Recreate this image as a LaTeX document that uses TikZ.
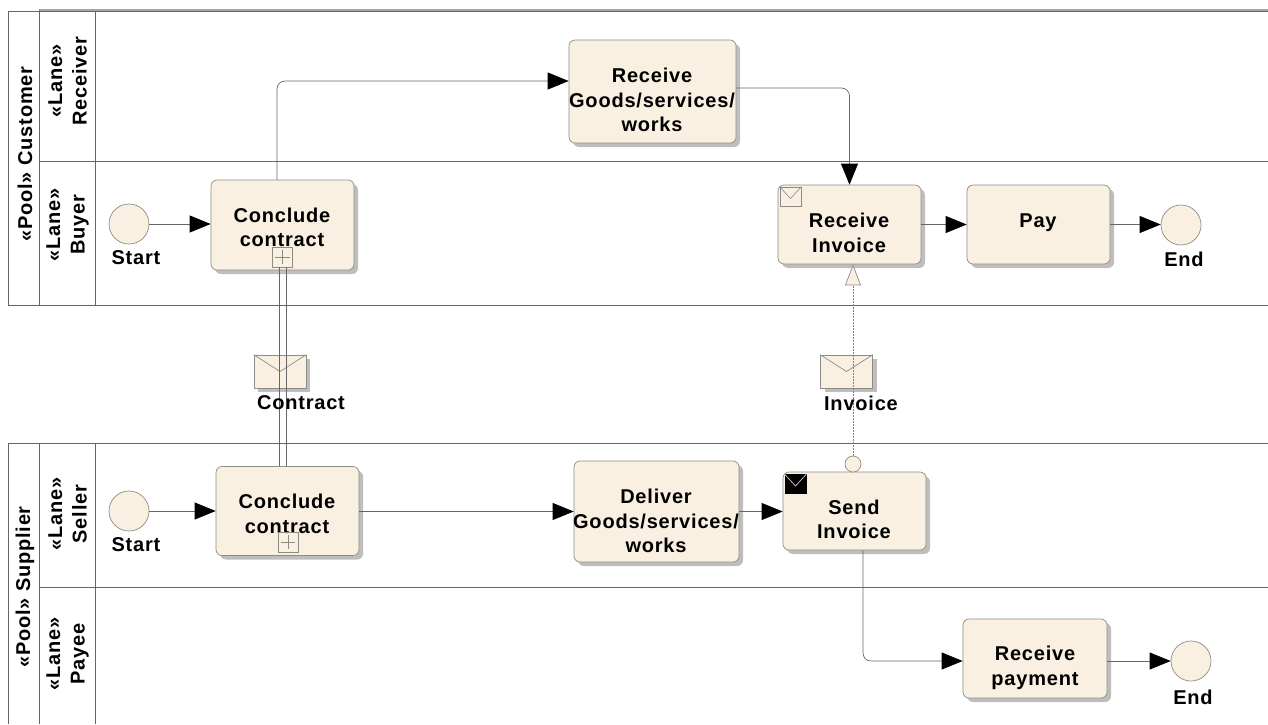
\documentclass[tikz,border=0pt]{standalone}
\usepackage{fontspec}
\setmainfont{Liberation Sans}[LetterSpace=4]
\usetikzlibrary{arrows.meta,shadows,calc}
\definecolor{cream}{HTML}{FAF0E2}
\definecolor{edgegray}{HTML}{8C8C84}
\definecolor{linegray}{HTML}{666666}
\definecolor{shadowgray}{HTML}{BEBEBE}
\tikzset{
  lane/.style={draw=linegray,line width=0.8pt},
  txt/.style={font=\bfseries\fontsize{20}{24.5}\selectfont,align=center,inner sep=0pt,text=black},
  sidetxt/.style={txt,rotate=90},
  taskbox/.style={draw=edgegray,line width=0.7pt,fill=cream,rounded corners=6pt,inner sep=0pt,
    drop shadow={shadow xshift=4pt,shadow yshift=-4pt,fill=shadowgray,opacity=1}},
  event/.style={circle,draw=edgegray,line width=0.7pt,fill=cream,minimum size=40pt,inner sep=0pt},
  flow/.style={draw=linegray,line width=0.7pt,rounded corners=8pt,-{Triangle[length=21pt,width=17pt,color=black,fill=black]}},
  msgline/.style={draw=linegray,line width=0.7pt},
  msgdot/.style={draw=gray,line width=0.7pt,dash pattern=on 1.5pt off 1.5pt,-{Triangle[length=21pt,width=16pt,fill=cream,color=edgegray,line width=0.7pt,sep=0pt]}},
  envbox/.style={draw=edgegray,line width=0.7pt,fill=cream,minimum width=52pt,minimum height=33pt,inner sep=0pt,
    drop shadow={shadow xshift=4pt,shadow yshift=-4pt,fill=shadowgray,opacity=1}},
  iconbox/.style={draw=edgegray,line width=0.7pt,inner sep=0pt,minimum width=21pt,minimum height=19pt},
  plusbox/.style={draw=edgegray,line width=0.7pt,inner sep=0pt,minimum size=20pt},
}
\begin{document}
\begin{tikzpicture}[x=1pt,y=-1pt]
\useasboundingbox (0,0) rectangle (1268,724);
% pools and lanes
\draw[draw=gray!70,line width=1.6pt] (39,10) -- (1268,10);
\draw[lane] (1268,11) -- (8,11) -- (8,305) -- (1268,305);
\draw[lane] (39,10) -- (39,305);
\draw[lane] (95,11) -- (95,305);
\draw[lane] (39,161) -- (1268,161);
\draw[lane] (1268,443) -- (8,443) -- (8,724);
\draw[lane] (39,443) -- (39,724);
\draw[lane] (95,443) -- (95,724);
\draw[lane] (39,587) -- (1268,587);
\node[sidetxt] (poolc) at (25,154) {«Pool» Customer};
\node[sidetxt] (lrecv) at (67.5,81) {«Lane»\\Receiver};
\node[sidetxt] (lbuy) at (67.5,225) {«Lane»\\Buyer};
\node[sidetxt] (pools) at (25,587) {«Pool» Supplier};
\node[sidetxt] (lsell) at (67.5,514) {«Lane»\\Seller};
\node[sidetxt] (lpay) at (67.5,654) {«Lane»\\Payee};
% events
\node[event] (start1) at (129,224) {};
\node[event] (end1) at (1181,225) {};
\node[event] (start2) at (129,511) {};
\node[event] (end2) at (1191,661) {};
\node[txt] (tstart1) at (136,258) {Start};
\node[txt] (tend1) at (1184,259) {End};
\node[txt] (tstart2) at (136,545) {Start};
\node[txt] (tend2) at (1193,697) {End};
% tasks
\node[taskbox,minimum width=143pt,minimum height=90pt] (c1) at (282.5,225) {};
\node[taskbox,minimum width=167pt,minimum height=103pt] (goods) at (652.5,91.5) {};
\node[taskbox,minimum width=143pt,minimum height=79pt] (recvinv) at (849.5,224.5) {};
\node[taskbox,minimum width=143pt,minimum height=79pt] (pay) at (1038.5,224.5) {};
\node[taskbox,minimum width=143pt,minimum height=89pt] (c2) at (287.5,511) {};
\node[taskbox,minimum width=165pt,minimum height=101pt] (deliver) at (656.5,511.5) {};
\node[taskbox,minimum width=143pt,minimum height=78pt] (sendinv) at (854.5,511) {};
\node[taskbox,minimum width=144pt,minimum height=79pt] (recvpay) at (1035,658.5) {};
\node[txt] (tc1) at (282,227.5) {Conclude\\contract};
\node[txt] (tgoods) at (652,100) {Receive\\Goods/services/\\works};
\node[txt] (trecvinv) at (849,233) {Receive\\Invoice};
\node[txt] (tpay) at (1038,223) {Pay};
\node[txt] (tc2) at (287,514) {Conclude\\contract};
\node[txt] (tdeliver) at (656,521) {Deliver\\Goods/services/\\works};
\node[txt] (tsend) at (854,519.5) {Send\\Invoice};
\node[txt] (trecvpay) at (1035,668) {Receive\\payment};
% markers
\node[plusbox] (plus1) at (282.5,257) {};
\draw[edgegray,line width=0.6pt] ($(plus1.west)+(3,0)$) -- ($(plus1.east)+(-3,0)$) ($(plus1.north)+(0,3)$) -- ($(plus1.south)+(0,-3)$);
\node[plusbox] (plus2) at (288,542) {};
\draw[edgegray,line width=0.6pt] ($(plus2.west)+(3,0)$) -- ($(plus2.east)+(-3,0)$) ($(plus2.north)+(0,3)$) -- ($(plus2.south)+(0,-3)$);
\node[iconbox] (mailr) at (790.5,196.5) {};
\draw[edgegray,line width=0.6pt] (mailr.north west) -- ($(mailr.center)+(0,2)$) -- (mailr.north east);
\node[iconbox,fill=black,draw=black] (mails) at (795.5,484) {};
\draw[white!80!gray,line width=0.6pt] (mails.north west) -- ($(mails.center)+(0,2)$) -- (mails.north east);
% message envelopes
\node[envbox] (envc) at (280,371.5) {};
\draw[edgegray,line width=0.7pt] (envc.north west) -- (envc.center) -- (envc.north east);
\node[envbox] (envi) at (846.5,371.5) {};
\draw[edgegray,line width=0.7pt] (envi.north west) -- (envi.center) -- (envi.north east);
% sequence flows
\draw[flow] (start1) -- (c1.west |- start1);
\draw[flow] ([xshift=-5.5pt]c1.north) |- ([yshift=10.5pt]goods.west);
\draw[flow] ([yshift=3.5pt]goods.east) -| (recvinv.north);
\draw[flow] (recvinv.east) -- (pay.west);
\draw[flow] (pay.east) -- (end1.west |- pay.east);
\draw[flow] (start2) -- (c2.west |- start2);
\draw[flow] ([yshift=-0.5pt]c2.east) -- (deliver.west);
\draw[flow] (deliver.west -| deliver.east) -- (sendinv.west |- deliver.east);
\draw[flow] ([xshift=8.5pt]sendinv.south) |- ([yshift=-2.5pt]recvpay.west);
\draw[flow] ([yshift=-2.5pt]recvpay.east) -- (end2.west |- 0,661);
% message flows
\draw[msgline] ([xshift=-3.5pt]plus1.south) -- ([xshift=-8.5pt]c2.north);
\draw[msgline] ([xshift=3.5pt]plus1.south) -- ([xshift=-1.5pt]c2.north);
\node[circle,draw=edgegray,line width=0.7pt,fill=cream,minimum size=16pt,inner sep=0pt] (flowstart) at (853,464) {};
\draw[msgdot] (flowstart.north) -- (flowstart |- recvinv.south);
\node[txt] (tcontract) at (301,403) {Contract};
\node[txt] (tinvoice) at (861,403) {Invoice};
\end{tikzpicture}
\end{document}
